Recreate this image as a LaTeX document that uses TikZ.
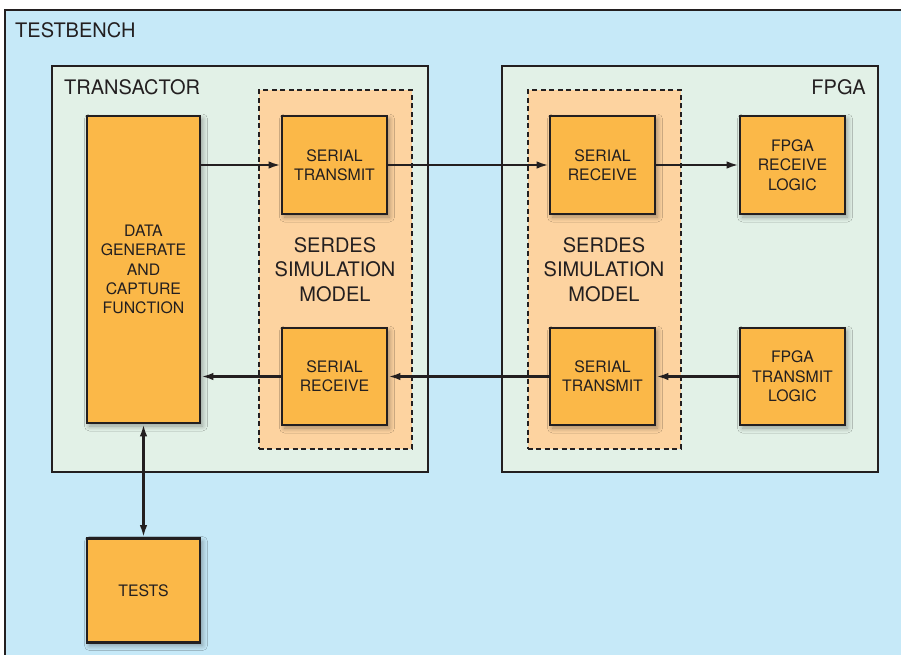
\documentclass[tikz,border=0pt]{standalone}
\usepackage{fontspec}
\setmainfont{TeX Gyre Heros}
\usetikzlibrary{arrows.meta,shadows.blur}
\definecolor{tbblue}{HTML}{C6E9F8}
\definecolor{mint}{HTML}{E2F1E7}
\definecolor{peach}{HTML}{FDD3A0}
\definecolor{orangebox}{HTML}{FBB848}
\definecolor{ink}{HTML}{231F20}
\tikzset{
  x=1pt, y=-1pt,
  region/.style={draw=ink, line width=2.2pt, fill=mint},
  serdes/.style={draw=ink, line width=2pt, dash pattern=on 5pt off 3.5pt, fill=peach,
    align=center, inner sep=0pt, font=\fontsize{20}{24.4}\selectfont, text=ink},
  block/.style={draw=ink, line width=2.8pt, fill=orangebox, align=center, inner sep=0pt,
    font=\fontsize{15.8}{19.3}\selectfont, text=ink,
    blur shadow={shadow xshift=2.5pt, shadow yshift=-3pt, shadow blur steps=8, shadow opacity=35, shadow blur radius=5pt}},
  conn/.style={draw=ink, line width=2.2pt, -{Latex[length=12pt,width=7.5pt]}},
  title/.style={font=\fontsize{20}{22}\selectfont, text=ink, inner sep=0pt}
}
\begin{document}
\begin{tikzpicture}
\useasboundingbox (0,0) rectangle (901,655);
\begin{scope}
\clip (0,0) rectangle (901,655);
\draw[draw=ink, line width=2.2pt, fill=tbblue] (5,10) rectangle (915,670);
\end{scope}
\node[title, anchor=base west] (tbl) at (15,38) {TESTBENCH};
% regions
\draw[region] (52,66) rectangle (428,472);
\draw[region] (502,66) rectangle (878,472);
\node[title, anchor=base west] (trl) at (64,95) {TRANSACTOR};
\node[title, anchor=base east] (fpl) at (866,95) {FPGA};
% serdes dashed boxes
\node[serdes, minimum width=153pt, minimum height=358pt] (sdL) at (335,269.5) {SERDES\\SIMULATION\\MODEL};
\node[serdes, minimum width=153pt, minimum height=358pt] (sdR) at (604,269.5) {SERDES\\SIMULATION\\MODEL};
% blocks
\node[block, minimum width=113pt, minimum height=307pt] (data) at (143.5,269.5) {DATA\\GENERATE\\AND\\CAPTURE\\FUNCTION};
\node[block, minimum width=105pt, minimum height=98pt] (stL) at (334.5,165) {SERIAL\\TRANSMIT};
\node[block, minimum width=105pt, minimum height=97pt] (srL) at (334.5,376.5) {SERIAL\\RECEIVE};
\node[block, minimum width=105pt, minimum height=98pt] (srR) at (602.5,165) {SERIAL\\RECEIVE};
\node[block, minimum width=105pt, minimum height=97pt] (stR) at (602.5,376.5) {SERIAL\\TRANSMIT};
\node[block, minimum width=105pt, minimum height=98pt] (frl) at (792.5,165) {FPGA\\RECEIVE\\LOGIC};
\node[block, minimum width=105pt, minimum height=97pt] (ftl) at (792.5,376.5) {FPGA\\TRANSMIT\\LOGIC};
\node[block, minimum width=113pt, minimum height=104pt] (tests) at (143.5,590.5) {TESTS};
% connectors
\draw[conn] (data.east |- stL.west) -- (stL.west);
\draw[conn] (stL.east) -- (srR.west);
\draw[conn] (srR.east) -- (frl.west);
\draw[conn] (ftl.west) -- (stR.east);
\draw[conn] (stR.west) -- (srL.east);
\draw[conn] (srL.west) -- (srL.west -| data.east);
\draw[conn, {Latex[length=12pt,width=7.5pt]}-{Latex[length=12pt,width=7.5pt]}] (data.south) -- (tests.north);
\end{tikzpicture}
\end{document}
